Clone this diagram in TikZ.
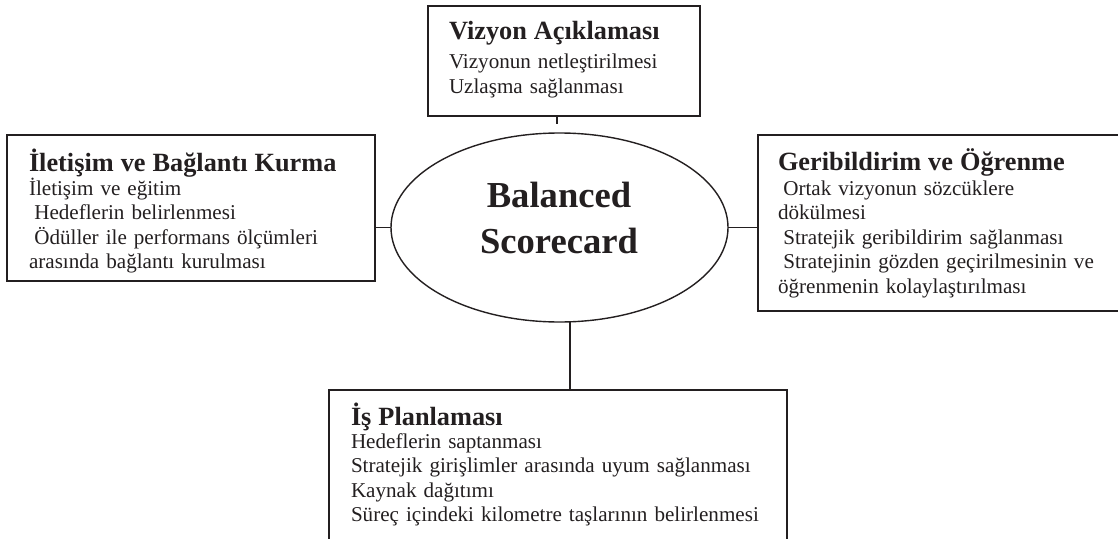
\documentclass[tikz,border=0pt]{standalone}
\usepackage{fontspec}
\setmainfont{Liberation Serif}
\usetikzlibrary{shapes.geometric}
\definecolor{ink}{RGB}{35,31,32}
\newcommand\bodyfont{\fontsize{21.1}{24.6}\selectfont}
\newcommand\headfont{\bfseries\fontsize{26.3}{24.6}\selectfont}
\newcommand\hubfont{\bfseries\fontsize{36.6}{46}\selectfont}
\newcommand\lead{\hspace*{5.3pt}}
\begin{document}
\begin{tikzpicture}[x=1pt,y=-1pt,
  frame/.style={draw=ink, line width=1.6pt, inner sep=0pt, outer sep=0pt, anchor=north west},
  hub/.style={ellipse, draw=ink, line width=1.4pt, inner sep=0pt, outer sep=0pt,
              minimum width=337pt, minimum height=189pt},
  txt/.style={anchor=base west, inner sep=0pt, outer sep=0pt, text=ink,
              text width=440pt, align=left, font=\bodyfont},
  link/.style={draw=ink, line width=1.5pt}]
\useasboundingbox (0,0) rectangle (1118,538);

% boxes around the central ellipse
\node[frame, minimum width=272pt, minimum height=110pt] (vbox) at (428,6) {};
\node[frame, minimum width=368pt, minimum height=146pt] (lbox) at (7,135) {};
\node[frame, minimum width=367pt, minimum height=176pt] (rbox) at (758,135) {};
\node[frame, minimum width=458pt, minimum height=160pt] (bbox) at (329,390) {};

% central ellipse
\node[hub] (ell) at (559.5,227.5) {};
\node[anchor=base, inner sep=0pt, text width=300pt, align=center, font=\hubfont, text=ink]
  (hubtext) at (559,207) {Balanced\\Scorecard};

% box texts
\node[txt] (vtext) at (449,39)
  {{\headfont Vizyon Açıklaması}\\[5.3pt]
   Vizyonun netleştirilmesi\\
   Uzlaşma sağlanması};
\node[txt] (ltext) at (29,171)
  {{\headfont İletişim ve Bağlantı Kurma}\\[-0.6pt]
   İletişim ve eğitim\\
   \lead Hedeflerin belirlenmesi\\
   \lead Ödüller ile performans ölçümleri\\
   arasında bağlantı kurulması};
\node[txt] (rtext) at (778,170)
  {{\headfont Geribildirim ve Öğrenme}\\[0.4pt]
   \lead Ortak vizyonun sözcüklere\\
   dökülmesi\\
   \lead Stratejik geribildirim sağlanması\\
   \lead Stratejinin gözden geçirilmesinin ve\\
   öğrenmenin kolaylaştırılması};
\node[txt] (btext) at (351,425)
  {{\headfont İş Planlaması}\\[-1.6pt]
   Hedeflerin saptanması\\
   Stratejik girişlimler arasında uyum sağlanması\\
   Kaynak dağıtımı\\
   Süreç içindeki kilometre taşlarının belirlenmesi};

% connectors
\coordinate (vend) at (557,124);
\coordinate (bcol) at (570,0);
\draw[link] (vbox.south -| vend) -- (vend);
\draw[link] (ell.west) -- (ell.west -| lbox.east);
\draw[link] (ell.east) -- (ell.east -| rbox.west);
\draw[link] (ell.south -| bcol) -- (bbox.north -| bcol);
\end{tikzpicture}
\end{document}
